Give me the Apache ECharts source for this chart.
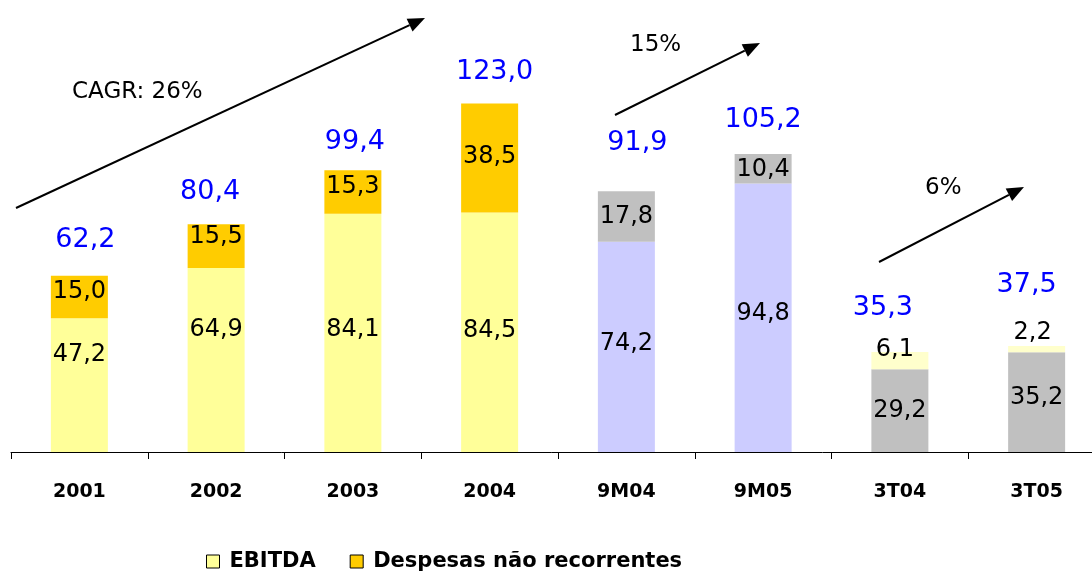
<!DOCTYPE html>
<html>
<head>
<meta charset="utf-8">
<script src="https://cdn.jsdelivr.net/npm/echarts@6/dist/echarts.min.js"></script>
<style>
  html, body { margin: 0; padding: 0; background: #fff; }
  #chart { width: 1092px; height: 572px; }
</style>
</head>
<body>
<div id="chart"></div>
<script>
const categories = ['2001', '2002', '2003', '2004', '9M04', '9M05', '3T04', '3T05'];
const ebitda = [47.2, 64.9, 84.1, 84.5, 74.2, 94.8, 29.2, 35.2];
const despesas = [15.0, 15.5, 15.3, 38.5, 17.8, 10.4, 6.1, 2.2];
const totals = [62.2, 80.4, 99.4, 123.0, 91.9, 105.2, 35.3, 37.5];

const bottomColors = ['#FFFF99', '#FFFF99', '#FFFF99', '#FFFF99', '#CCCCFF', '#CCCCFF', '#C0C0C0', '#C0C0C0'];
const topColors = ['#FFCC00', '#FFCC00', '#FFCC00', '#FFCC00', '#C0C0C0', '#C0C0C0', '#FFFFCC', '#FFFFCC'];

// hand-placed label nudges, like the original slide
const bottomShift = [-30, -30, -3, -2, -3, -4, 0, -4];
const topShift = [[0, -5], [0, -9], [0, -5], [0, -1], [0, 0], [0, 1], [-5, -11], [-4, -16]];
const totalShift = [[6, -36], [-6, -32], [2, -28], [5, -32], [11, -49], [0, -34], [-17, -44], [-10, -61]];

const fmt = v => v.toFixed(1).replace('.', ',');
const font = '"DejaVu Sans", Verdana, sans-serif';

const arrow = (x1, y1, x2, y2) => {
  const a = Math.atan2(y2 - y1, x2 - x1);
  const len = 17, half = 7;
  const bx = x2 - len * Math.cos(a), by = y2 - len * Math.sin(a);
  const nx = -Math.sin(a) * half, ny = Math.cos(a) * half;
  return [
    { type: 'line', shape: { x1, y1, x2: bx, y2: by }, style: { stroke: '#000', lineWidth: 2 } },
    { type: 'polygon', shape: { points: [[x2, y2], [bx + nx, by + ny], [bx - nx, by - ny]] }, style: { fill: '#000' } }
  ];
};

const note = (x, y, text) => ({
  type: 'text', x, y,
  style: { text, fill: '#000', fontFamily: font, fontSize: 23, verticalAlign: 'middle' }
});

const chart = echarts.init(document.getElementById('chart'));

chart.setOption({
  animation: false,
  grid: { left: 11, top: 27, width: 1094, bottom: 120, outerBoundsMode: 'none' },
  legend: {
    left: 201,
    top: 546,
    itemWidth: 13,
    itemHeight: 13,
    itemGap: 34,
    icon: 'rect',
    itemStyle: { borderColor: '#000', borderWidth: 1 },
    textStyle: { fontFamily: font, fontWeight: 'bold', fontSize: 21, color: '#000', padding: [0, 0, 0, 5] },
    data: ['EBITDA', 'Despesas não recorrentes']
  },
  xAxis: {
    type: 'category',
    data: categories,
    axisLine: { lineStyle: { color: '#000', width: 1 } },
    axisTick: { show: true, length: 7, lineStyle: { color: '#000' } },
    axisLabel: { margin: 31, color: '#000', fontFamily: font, fontWeight: 'bold', fontSize: 19 }
  },
  yAxis: { type: 'value', min: 0, max: 150, show: false },
  graphic: [
    ...arrow(16, 208, 425, 18),
    ...arrow(615, 115, 760, 43),
    ...arrow(879, 262, 1024, 187),
    note(72, 92, 'CAGR: 26%'),
    note(630, 45, '15%'),
    note(925, 188, '6%')
  ],
  series: [
    {
      name: 'EBITDA',
      type: 'bar',
      stack: 'total',
      barWidth: 57,
      itemStyle: { color: '#FFFF99' },
      data: ebitda.map((v, i) => ({
        value: v,
        itemStyle: { color: bottomColors[i] },
        label: { offset: [0, bottomShift[i]] }
      })),
      label: {
        show: true, position: 'inside', color: '#000',
        fontFamily: font, fontSize: 24, formatter: p => fmt(p.value)
      }
    },
    {
      name: 'Despesas não recorrentes',
      type: 'bar',
      stack: 'total',
      barWidth: 57,
      itemStyle: { color: '#FFCC00' },
      data: despesas.map((v, i) => ({
        value: v,
        itemStyle: { color: topColors[i] },
        label: { offset: topShift[i] }
      })),
      label: {
        show: true, position: 'inside', color: '#000',
        fontFamily: font, fontSize: 24, formatter: p => fmt(p.value)
      }
    },
    {
      name: 'Total',
      type: 'scatter',
      symbolSize: 1,
      itemStyle: { color: 'rgba(0,0,0,0)', opacity: 1 },
      data: totals.map((v, i) => ({ value: v, label: { offset: totalShift[i] } })),
      label: {
        show: true, position: 'inside', color: '#0000FF',
        fontFamily: font, fontSize: 27, formatter: p => fmt(p.value)
      },
      z: 5
    }
  ]
});
</script>
</body>
</html>
